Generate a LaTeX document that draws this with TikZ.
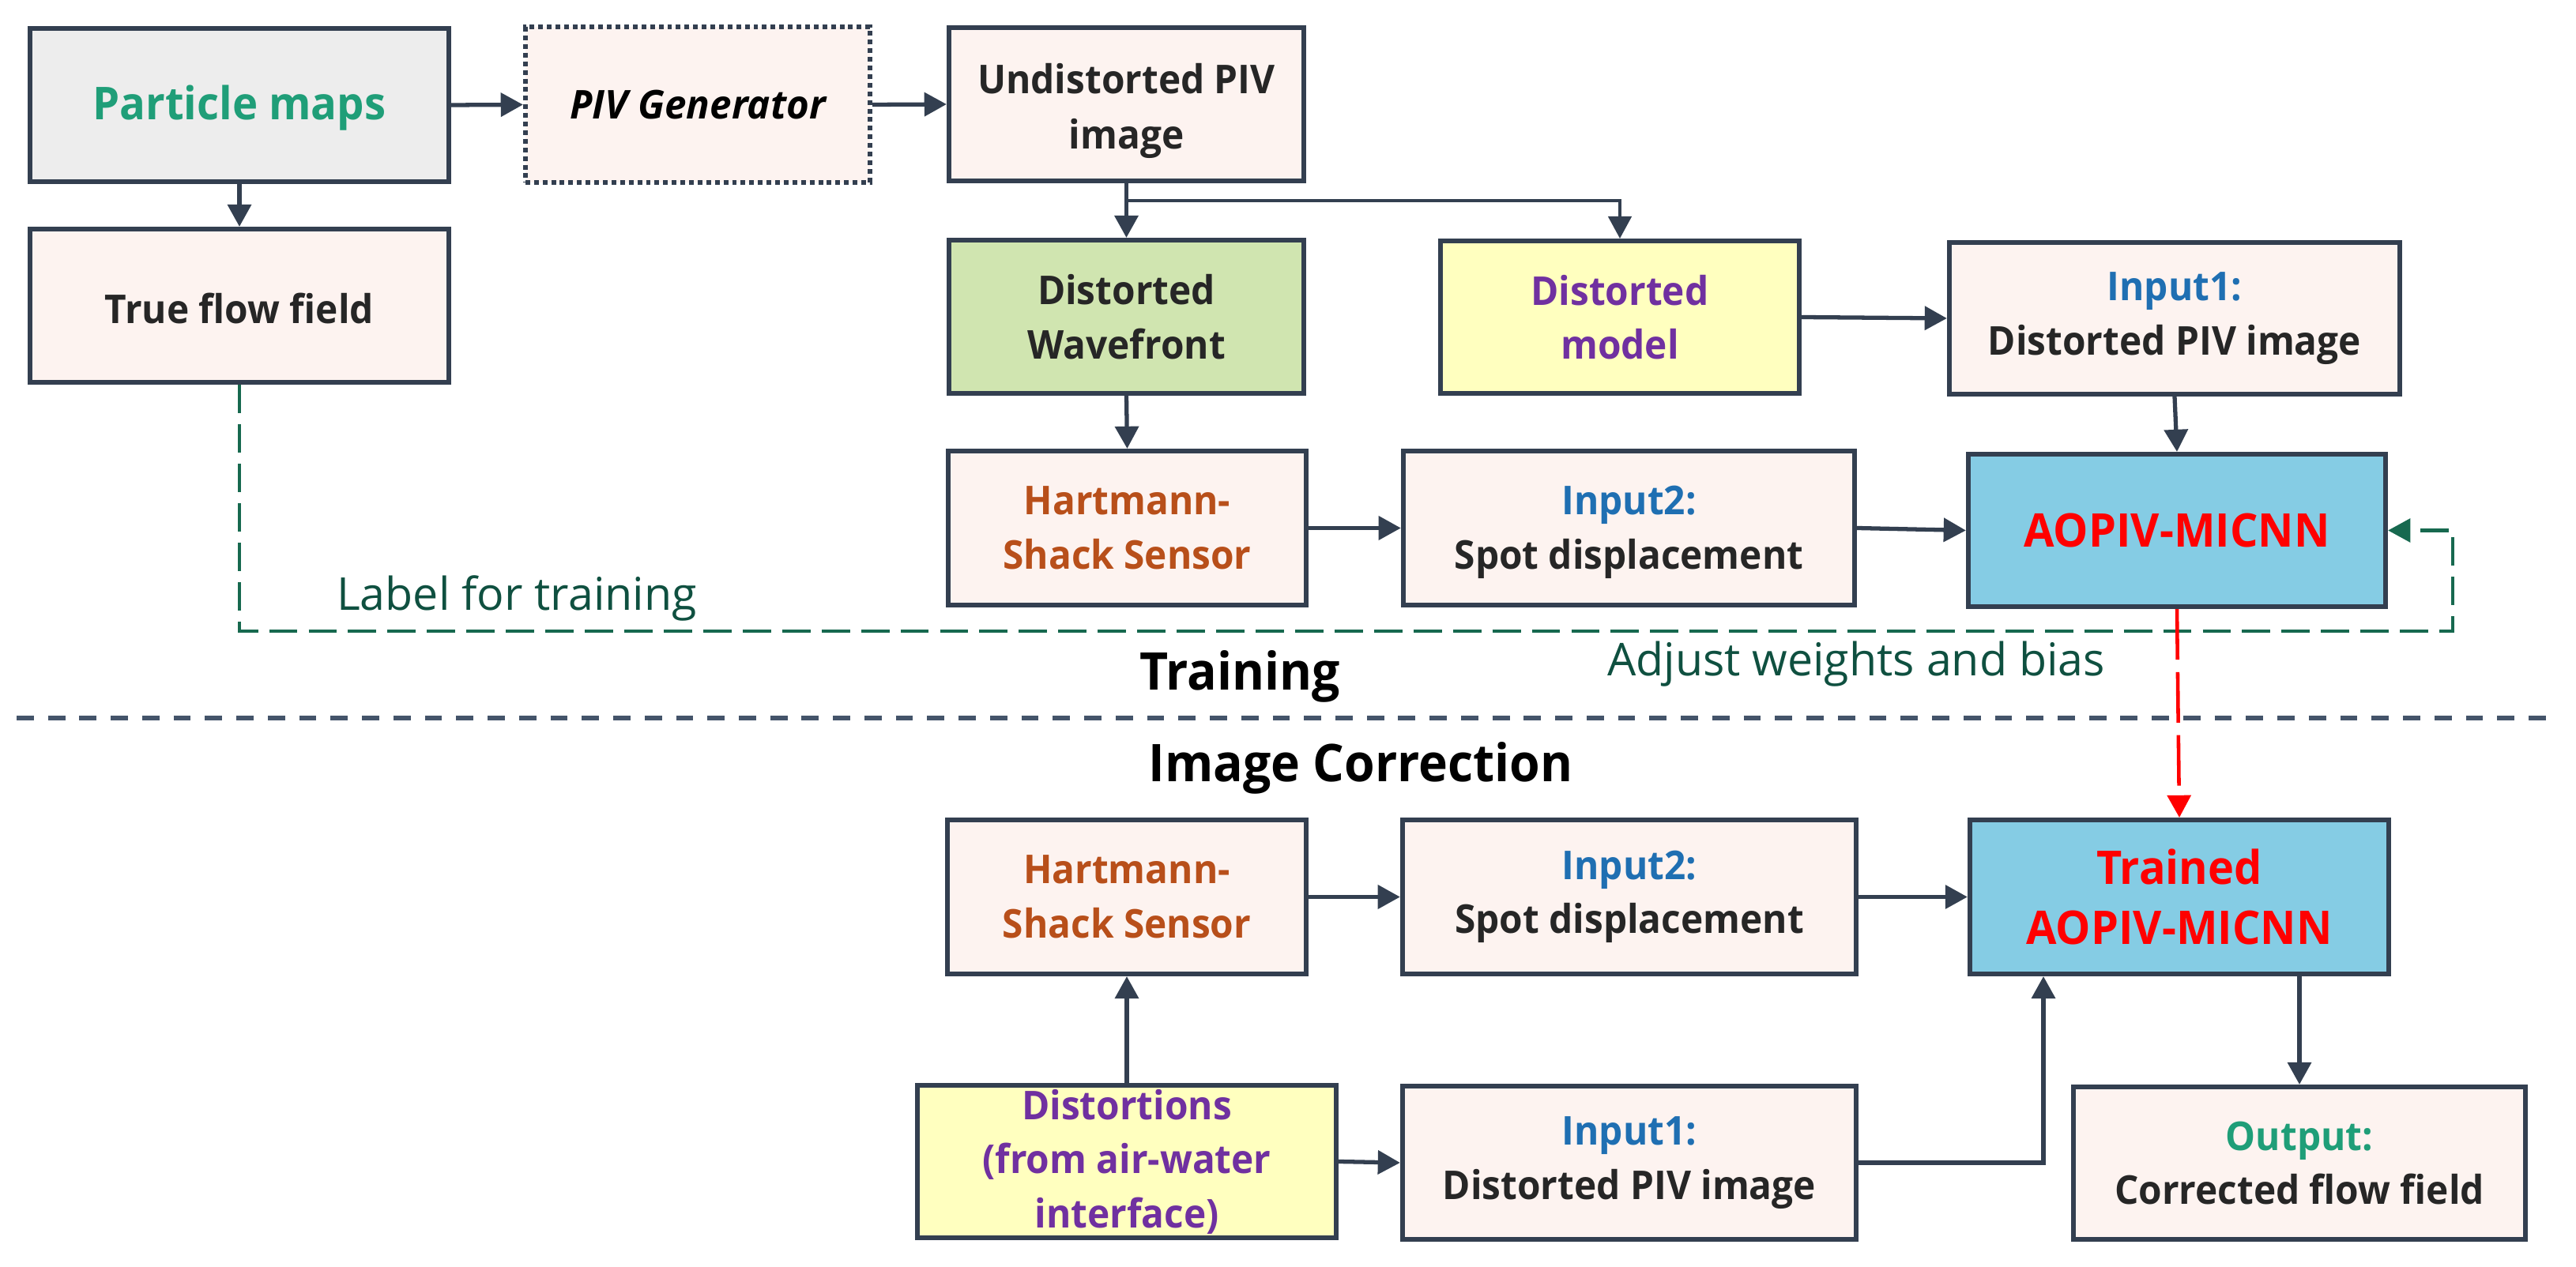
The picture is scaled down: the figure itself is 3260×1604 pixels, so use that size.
\documentclass[tikz,border=0pt]{standalone}
\usepackage{fontspec}
\setmainfont[BoldFeatures={FakeStretch=0.95},BoldItalicFeatures={FakeStretch=0.98}]{Open Sans}
\usetikzlibrary{arrows.meta}
\definecolor{ink}{HTML}{333F50}
\definecolor{pinkfill}{HTML}{FDF3F0}
\definecolor{greyfill}{HTML}{EDEDED}
\definecolor{greenfill}{HTML}{D0E5B0}
\definecolor{yellowfill}{HTML}{FFFFBF}
\definecolor{bluefill}{HTML}{85CCE4}
\definecolor{tealtxt}{HTML}{1F9E78}
\definecolor{inputblue}{HTML}{1F6FB2}
\definecolor{rust}{HTML}{B84F1A}
\definecolor{violet2}{HTML}{7030A0}
\definecolor{bodytxt}{HTML}{262626}
\definecolor{dashgreen}{HTML}{17694F}
\definecolor{labelgreen}{HTML}{0F5040}
\definecolor{divider}{HTML}{44546A}
\newcommand{\lift}[1]{\rule{0pt}{#1}}
\tikzset{
  boxbase/.style={draw=ink,line width=1.7pt,rectangle,align=center,inner sep=0pt,text=bodytxt,
    font=\fontsize{14.3}{19.5}\selectfont\bfseries},
  pinkbox/.style={boxbase,fill=pinkfill},
  bigbox/.style={boxbase,fill=bluefill,text=red,font=\fontsize{16.7}{21.5}\selectfont\bfseries},
  conn/.style={draw=ink,line width=1.5pt,-{Triangle[length=8pt,width=8.4pt]}},
  thinconn/.style={draw=ink,line width=1pt},
  heading/.style={font=\fontsize{18.7}{22}\selectfont\bfseries,text=black,inner sep=0pt},
  greenlabel/.style={font=\fontsize{16.3}{20}\selectfont,text=labelgreen,inner sep=0pt},
}
\begin{document}
\begin{tikzpicture}[x=0.01cm,y=-0.01cm]
\useasboundingbox (0,0) rectangle (3260,1604);
% top rows
\node[boxbase,fill=greyfill,minimum width=5.30cm,minimum height=1.94cm,text=tealtxt,font=\fontsize{16.3}{20}\selectfont\bfseries] (pm) at (303,133) {\lift{14.6pt}Particle maps};
\node[pinkbox,minimum width=4.36cm,minimum height=1.96cm,dash pattern=on 1.7pt off 1.4pt,text=black,font=\fontsize{14.3}{18.8}\selectfont\bfseries\itshape] (piv) at (883,132.5) {PIV Generator};
\node[pinkbox,minimum width=4.49cm,minimum height=1.94cm] (und) at (1425.5,132) {\lift{15.5pt}Undistorted PIV\\[0.5pt]image};
\node[pinkbox,minimum width=5.30cm,minimum height=1.94cm] (tf) at (303,387) {\lift{13.1pt}True flow field};
\node[boxbase,fill=greenfill,minimum width=4.49cm,minimum height=1.94cm] (dw) at (1425.5,401) {Distorted\\Wavefront};
\node[boxbase,fill=yellowfill,minimum width=4.54cm,minimum height=1.93cm,text=violet2] (dm) at (2050,401.5) {Distorted\\model};
\node[pinkbox,minimum width=5.70cm,minimum height=1.92cm] (ina) at (2752,403) {\textcolor{inputblue}{Input1:}\\Distorted PIV image};
\node[pinkbox,minimum width=4.53cm,minimum height=1.95cm,text=rust] (hs) at (1426.5,668.5) {Hartmann-\\Shack Sensor};
\node[pinkbox,minimum width=5.71cm,minimum height=1.95cm] (inb) at (2061.5,668.5) {\lift{13.5pt}\textcolor{inputblue}{Input2:}\\Spot displacement};
\node[bigbox,minimum width=5.28cm,minimum height=1.93cm] (ao) at (2755,671.5) {AOPIV-MICNN};
% bottom rows
\node[pinkbox,minimum width=4.54cm,minimum height=1.95cm,text=rust] (hsb) at (1426,1135.5) {Hartmann-\\Shack Sensor};
\node[pinkbox,minimum width=5.74cm,minimum height=1.95cm] (inc) at (2062,1135.5) {\textcolor{inputblue}{Input2:}\\Spot displacement};
\node[bigbox,minimum width=5.30cm,minimum height=1.95cm] (tr) at (2758,1135.5) {Trained\\AOPIV-MICNN};
\node[boxbase,fill=yellowfill,minimum width=5.30cm,minimum height=1.93cm,text=violet2] (dist) at (1426,1470.5) {Distortions\\(from air-water\\interface)};
\node[pinkbox,minimum width=5.74cm,minimum height=1.94cm] (ind) at (2062,1472) {\textcolor{inputblue}{Input1:}\\Distorted PIV image};
\node[pinkbox,minimum width=5.72cm,minimum height=1.93cm] (out) at (2910,1472.5) {\textcolor{tealtxt}{Output:}\\Corrected flow field};
% labels
\node[heading] (train) at (1569,856) {Training};
\node[heading] (corr) at (1722,972) {Image Correction};
\node[greenlabel] (adj) at (2349,841) {Adjust weights and bias};
\node[greenlabel] (lab) at (654,757) {Label for training};
% helper coordinates
\coordinate (branch) at (1425.5,254);
\coordinate (gcorner) at (3104,799);
\coordinate (divl) at (21,909);
\coordinate (divr) at (3236,909);
\coordinate (elbow) at (2586,1236);
% connectors
\draw[conn] (pm.east) -- (piv.west);
\draw[conn] (piv.east) -- (und.west);
\draw[conn] (pm.south) -- (tf.north);
\draw[conn] (und.south) -- (dw.north);
\draw[thinconn,-{Triangle[length=8pt,width=8.4pt]}] (branch) -| (dm.north);
\draw[conn] (dm.east) -- (ina.west);
\draw[conn] (dw.south) -- (hs.north);
\draw[conn] (ina.south) -- (ao.north);
\draw[conn] (hs.east) -- (inb.west);
\draw[conn] (inb.east) -- (ao.west);
\draw[dashgreen,line width=1.2pt,dash pattern=on 10.2pt off 4pt,-{Triangle[length=8pt,width=8.4pt,fill=dashgreen]}] (tf.south) |- (gcorner) |- (ao.east);
\draw[red,line width=1.3pt,dash pattern=on 18.2pt off 4.5pt,-{Triangle[length=8pt,width=8.4pt,fill=red]}] (ao.south) -- (tr.north);
\draw[divider,line width=1.5pt,dash pattern=on 6.2pt off 5.1pt] (divl) -- (divr);
\draw[conn] (hsb.east) -- (inc.west);
\draw[conn] (inc.east) -- (tr.west);
\draw[conn] (dist.north) -- (hsb.south);
\draw[conn] (dist.east) -- (ind.west);
\draw[conn] (ind.east) -| (elbow);
\draw[conn] (tr.south -| out.north) -- (out.north);
\end{tikzpicture}
\end{document}
